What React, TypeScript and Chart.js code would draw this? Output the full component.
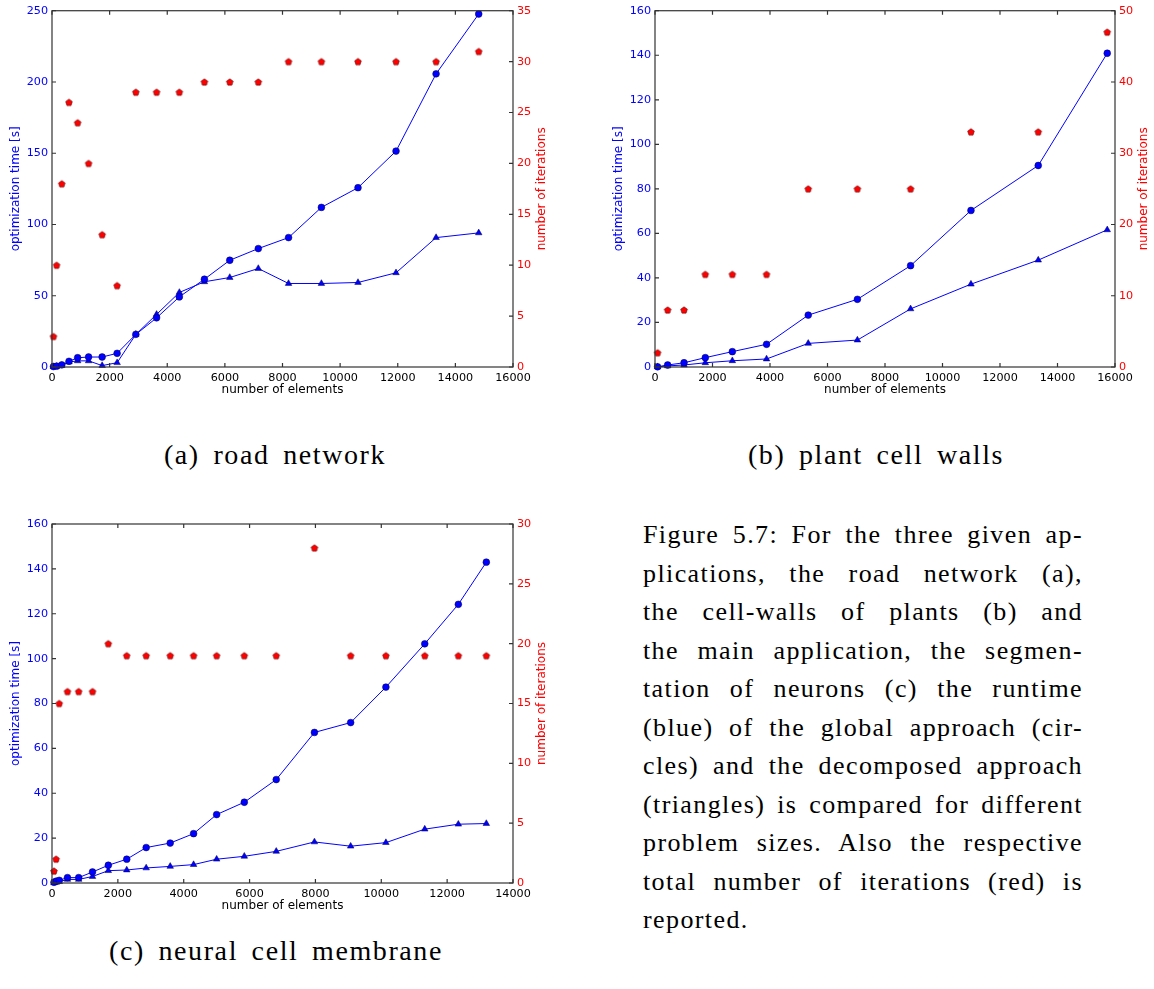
import React, { useEffect, useRef } from "react";
import { Chart, registerables } from "chart.js";
Chart.register(...registerables);

// (a) road network
const roadElements = [50, 160, 340, 590, 890, 1270, 1740, 2260, 2910, 3630, 4420, 5290, 6170, 7160, 8210, 9350, 10620, 11940, 13330, 14810];
const roadGlobal = [0.3, 0.6, 1.5, 4, 6.5, 7, 7, 9.6, 22.9, 34.5, 49.2, 61.6, 74.9, 83.1, 90.8, 112, 125.8, 151.5, 205.7, 247.7];
const roadDecomposed = [0.2, 0.4, 1.0, 3.5, 4.3, 4.3, 1.0, 3.0, 22.9, 36.9, 52.3, 59.8, 62.8, 69.1, 58.6, 58.6, 59.3, 66.1, 90.8, 94.1];
const roadIterations = [3, 10, 18, 26, 24, 20, 13, 8, 27, 27, 27, 28, 28, 28, 30, 30, 30, 30, 30, 31];

// (b) plant cell walls
const plantElements = [90, 440, 1010, 1750, 2690, 3880, 5330, 7040, 8890, 10990, 13330, 15730];
const plantGlobal = [0.1, 0.9, 1.9, 4.2, 6.9, 10.2, 23.3, 30.4, 45.5, 70.3, 90.5, 140.9];
const plantDecomposed = [0.05, 0.5, 0.9, 1.9, 2.8, 3.6, 10.6, 12.1, 26.1, 37.2, 48.0, 61.6];
const plantIterations = [2, 8, 8, 13, 13, 13, 25, 25, 25, 33, 33, 47];

// (c) neural cell membrane
const neuralElements = [60, 125, 220, 470, 810, 1230, 1710, 2270, 2860, 3590, 4300, 5000, 5840, 6810, 7970, 9070, 10140, 11320, 12340, 13190];
const neuralGlobal = [0.3, 0.8, 1.2, 2.4, 2.4, 4.9, 7.9, 10.6, 15.8, 17.8, 22.0, 30.5, 36.0, 46.1, 67.1, 71.5, 87.3, 106.6, 124.2, 143.0];
const neuralDecomposed = [0.1, 0.3, 0.6, 1.6, 1.6, 2.9, 5.5, 5.8, 6.7, 7.4, 8.2, 10.6, 11.9, 14.1, 18.3, 16.4, 18.0, 24.0, 26.2, 26.5];
const neuralIterations = [1, 2, 15, 16, 16, 16, 20, 19, 19, 19, 19, 19, 19, 19, 28, 19, 19, 19, 19, 19];

const xTitle = "number of elements";
const yTitle = "optimization time [s]";
const y1Title = "number of iterations";

const captionLines = [
  "Figure 5.7: For the three given ap-",
  "plications, the road network (a),",
  "the cell-walls of plants (b) and",
  "the main application, the segmen-",
  "tation of neurons (c) the runtime",
  "(blue) of the global approach (cir-",
  "cles) and the decomposed approach",
  "(triangles) is compared for different",
  "problem sizes. Also the respective",
  "total number of iterations (red) is",
  "reported.",
];

const TICK_FONT = { family: '"DejaVu Sans", sans-serif', size: 11.2 };
const TITLE_FONT = '12px "DejaVu Sans", sans-serif';

function makePentagon(r: number) {
  const size = Math.ceil(r * 2 + 3);
  const c = document.createElement("canvas");
  c.width = size;
  c.height = size;
  const g = c.getContext("2d")!;
  const cx = size / 2, cy = size / 2 + 0.3;
  g.beginPath();
  for (let i = 0; i < 5; i++) {
    const a = -Math.PI / 2 + (i * 2 * Math.PI) / 5;
    const px = cx + r * Math.cos(a), py = cy + r * Math.sin(a);
    if (i) g.lineTo(px, py); else g.moveTo(px, py);
  }
  g.closePath();
  g.fillStyle = "#ff0000";
  g.fill();
  g.strokeStyle = "#600";
  g.lineWidth = 0.6;
  g.stroke();
  return c;
}

type PanelSpec = {
  xs: number[];
  global: number[];
  decomposed: number[];
  iterations: number[];
  xMax: number;
  yMax: number;
  yStep: number;
  iterMax: number;
  iterStep: number;
  left: number;
  top: number;
  width: number;
  height: number;
  leftW: number;
  rightW: number;
  padTop: number;
  xH: number;
};

const axesFrame = {
  id: "axesFrame",
  afterDraw(chart: any) {
    const { ctx, chartArea: a, scales } = chart;
    ctx.save();
    ctx.strokeStyle = "#333";
    ctx.lineWidth = 1.2;
    ctx.strokeRect(a.left, a.top, a.right - a.left, a.bottom - a.top);
    const tl = 4;
    ctx.beginPath();
    scales.x.ticks.forEach((t: any) => {
      const p = scales.x.getPixelForValue(t.value);
      ctx.moveTo(p, a.bottom);
      ctx.lineTo(p, a.bottom - tl);
      ctx.moveTo(p, a.top);
      ctx.lineTo(p, a.top + tl);
    });
    scales.y.ticks.forEach((t: any) => {
      const p = scales.y.getPixelForValue(t.value);
      ctx.moveTo(a.left, p);
      ctx.lineTo(a.left + tl, p);
    });
    scales.y1.ticks.forEach((t: any) => {
      const p = scales.y1.getPixelForValue(t.value);
      ctx.moveTo(a.right, p);
      ctx.lineTo(a.right - tl, p);
    });
    ctx.stroke();

    ctx.font = TITLE_FONT;
    ctx.textAlign = "center";
    ctx.textBaseline = "middle";
    ctx.fillStyle = "#000";
    ctx.fillText(xTitle, (a.left + a.right) / 2, a.bottom + 23);
    const cy = (a.top + a.bottom) / 2;
    ctx.save();
    ctx.translate(a.left - 36.5, cy);
    ctx.rotate(-Math.PI / 2);
    ctx.fillStyle = "#0000ff";
    ctx.fillText(yTitle, 0, 0);
    ctx.restore();
    ctx.save();
    ctx.translate(a.right + 28.5, cy);
    ctx.rotate(-Math.PI / 2);
    ctx.fillStyle = "#ff0000";
    ctx.fillText(y1Title, 0, 0);
    ctx.restore();
    ctx.restore();
  },
};

function Panel({ spec }: { spec: PanelSpec }) {
  const ref = useRef<HTMLCanvasElement>(null);
  useEffect(() => {
    const pent = makePentagon(3.5);
    const pts = (ys: number[]) => spec.xs.map((x, i) => ({ x, y: ys[i] }));
    const chart = new Chart(ref.current!, {
      type: "line",
      data: {
        datasets: [
          {
            data: pts(spec.global),
            yAxisID: "y",
            borderColor: "#0000ff",
            borderWidth: 1,
            pointStyle: "circle",
            pointRadius: 3.4,
            pointBackgroundColor: "#0000ff",
            pointBorderColor: "#000044",
            pointBorderWidth: 0.5,
            clip: 8,
          },
          {
            data: pts(spec.decomposed),
            yAxisID: "y",
            borderColor: "#0000ff",
            borderWidth: 1,
            pointStyle: "triangle",
            pointRadius: 3.8,
            pointBackgroundColor: "#0000ff",
            pointBorderColor: "#000044",
            pointBorderWidth: 0.5,
            clip: 8,
          },
          {
            data: pts(spec.iterations),
            yAxisID: "y1",
            showLine: false,
            pointStyle: pent as any,
            pointRadius: 3.5,
            clip: 8,
          },
        ],
      } as any,
      options: {
        responsive: false,
        animation: false,
        events: [],
        layout: { padding: { top: spec.padTop, left: 0, right: 0, bottom: 0 }, autoPadding: false },
        plugins: { legend: { display: false }, tooltip: { enabled: false } },
        scales: {
          x: {
            type: "linear",
            position: "bottom",
            min: 0,
            max: spec.xMax,
            ticks: {
              stepSize: 2000,
              autoSkip: false,
              maxRotation: 0,
              padding: 4,
              color: "#000",
              font: TICK_FONT,
              callback: (v: any) => String(v),
            },
            grid: { display: false, drawTicks: false },
            border: { display: false },
            afterFit: (s: any) => { s.height = spec.xH; },
          },
          y: {
            type: "linear",
            position: "left",
            min: 0,
            max: spec.yMax,
            ticks: { stepSize: spec.yStep, padding: 4, color: "#0000ff", font: TICK_FONT, callback: (v: any) => String(v) },
            grid: { display: false, drawTicks: false },
            border: { display: false },
            afterFit: (s: any) => { s.width = spec.leftW; },
          },
          y1: {
            type: "linear",
            position: "right",
            min: 0,
            max: spec.iterMax,
            ticks: { stepSize: spec.iterStep, padding: 4, color: "#ff0000", font: TICK_FONT, callback: (v: any) => String(v) },
            grid: { display: false, drawTicks: false },
            border: { display: false },
            afterFit: (s: any) => { s.width = spec.rightW; },
          },
        },
      } as any,
      plugins: [axesFrame],
    });
    return () => chart.destroy();
  }, []);
  return (
    <canvas
      ref={ref}
      width={spec.width}
      height={spec.height}
      style={{ position: "absolute", left: spec.left, top: spec.top, width: spec.width, height: spec.height }}
    />
  );
}

const panelA: PanelSpec = {
  xs: roadElements, global: roadGlobal, decomposed: roadDecomposed, iterations: roadIterations,
  xMax: 16000, yMax: 250, yStep: 50, iterMax: 35, iterStep: 5,
  left: 0, top: 0, width: 580, height: 400, leftW: 52, rightW: 67, padTop: 10, xH: 33,
};
const panelB: PanelSpec = {
  xs: plantElements, global: plantGlobal, decomposed: plantDecomposed, iterations: plantIterations,
  xMax: 16000, yMax: 160, yStep: 20, iterMax: 50, iterStep: 10,
  left: 600, top: 0, width: 554, height: 400, leftW: 55, rightW: 39, padTop: 10, xH: 33,
};
const panelC: PanelSpec = {
  xs: neuralElements, global: neuralGlobal, decomposed: neuralDecomposed, iterations: neuralIterations,
  xMax: 14000, yMax: 160, yStep: 20, iterMax: 30, iterStep: 5,
  left: 0, top: 500, width: 580, height: 420, leftW: 52, rightW: 67, padTop: 24, xH: 37,
};

const serif = '"Liberation Serif", "Times New Roman", serif';

function SubCaption({ text, cx, top }: { text: string; cx: number; top: number }) {
  return (
    <div
      style={{
        position: "absolute",
        left: cx - 250,
        width: 500,
        top,
        textAlign: "center",
        fontFamily: serif,
        fontSize: 28,
        lineHeight: "32px",
        letterSpacing: "1.6px",
        wordSpacing: "5px",
        color: "#000",
        whiteSpace: "nowrap",
      }}
    >
      {text}
    </div>
  );
}

export default function App() {
  return (
    <div style={{ position: "absolute", left: 0, top: 0, width: 1154, height: 989, background: "#fff", overflow: "hidden" }}>
      <Panel spec={panelA} />
      <Panel spec={panelB} />
      <Panel spec={panelC} />
      <SubCaption text="(a) road network" cx={275} top={439} />
      <SubCaption text="(b) plant cell walls" cx={876} top={439} />
      <SubCaption text="(c) neural cell membrane" cx={276} top={935} />
      {captionLines.map((line, i) => (
        <div
          key={i}
          style={{
            position: "absolute",
            left: 643,
            top: 516 + i * 38.5,
            width: 440,
            fontFamily: serif,
            fontSize: 26,
            lineHeight: "38.5px",
            letterSpacing: "1.4px",
            color: "#000",
            textAlign: i === captionLines.length - 1 ? "left" : "justify",
            textAlignLast: i === captionLines.length - 1 ? "left" : "justify",
          } as any}
        >
          {line}
        </div>
      ))}
    </div>
  );
}
